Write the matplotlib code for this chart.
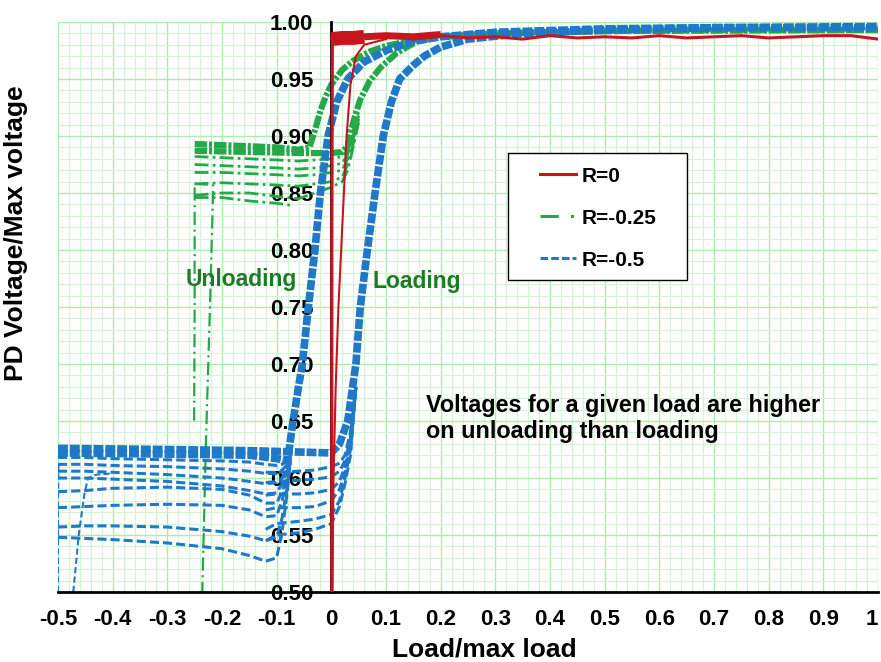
import numpy as np
import matplotlib.pyplot as plt
from matplotlib.ticker import MultipleLocator
from matplotlib.patches import Rectangle

plt.rcParams['font.family'] = ['Liberation Sans', 'DejaVu Sans']
plt.rcParams['font.weight'] = 'bold'
plt.rcParams['axes.unicode_minus'] = False

RED = '#c8141e'
GREEN = '#25a84a'
BLUE = '#1f78c8'
TXT_GREEN = '#1e7b25'

# ---------------- R = 0 ----------------
red_rise_x = [0.002, 0.004, 0.008, 0.013, 0.02, 0.028, 0.035, 0.045, 0.06, 0.1]
red_rise_y = [0.50, 0.60, 0.68, 0.75, 0.82, 0.90, 0.945, 0.97, 0.98, 0.985]
red_drop_x = [0.001, 0.001, 0.002]
red_drop_y = [0.50, 0.80, 0.985]
red_band_x = [0.0, 0.02, 0.04, 0.06]
red_band_y = [0.985, 0.986, 0.986, 0.987]
red_band2_x = [0.06, 0.1, 0.15, 0.2]
red_band2_y = [0.987, 0.988, 0.987, 0.989]
red_top_x = [0.0, 0.05, 0.1, 0.15, 0.2, 0.25, 0.3, 0.35, 0.4, 0.45, 0.5,
             0.55, 0.6, 0.65, 0.7, 0.75, 0.8, 0.85, 0.9, 0.95, 1.0]
red_top_y = [0.986, 0.988, 0.989, 0.985, 0.988, 0.986, 0.987, 0.985, 0.988, 0.986, 0.987,
             0.986, 0.988, 0.986, 0.987, 0.988, 0.986, 0.987, 0.988, 0.988, 0.985]

# ---------------- R = -0.25 ----------------
green_unload_x = [-0.25, -0.2, -0.15, -0.1, -0.06, -0.04, -0.03, -0.02, -0.01, 0.0,
                  0.02, 0.04, 0.07, 0.1, 0.15, 0.2, 0.3, 0.5, 0.7, 1.0]
green_unload_y = [0.893, 0.892, 0.891, 0.890, 0.888, 0.890, 0.905, 0.922, 0.935, 0.945,
                  0.958, 0.966, 0.974, 0.979, 0.984, 0.987, 0.990, 0.992, 0.993, 0.993]
green_load_x = [-0.25, -0.15, -0.05, 0.0, 0.02, 0.03, 0.035, 0.045, 0.053, 0.07,
                0.09, 0.12, 0.157, 0.2, 0.3, 0.5, 1.0]
green_load_y = [0.887, 0.886, 0.885, 0.885, 0.886, 0.891, 0.903, 0.920, 0.932, 0.948,
                0.960, 0.973, 0.983, 0.987, 0.990, 0.992, 0.993]
green_lo_x = [-0.25, -0.2, -0.15, -0.1, -0.06, -0.03, 0.0, 0.02, 0.03, 0.04, 0.05]
green_lo_y = [
    [0.882, 0.881, 0.880, 0.879, 0.878, 0.879, 0.880, 0.882, 0.888, 0.905, 0.925],
    [0.875, 0.874, 0.873, 0.872, 0.871, 0.872, 0.874, 0.876, 0.884, 0.900, 0.920],
    [0.868, 0.868, 0.867, 0.866, 0.865, 0.866, 0.868, 0.870, 0.880, 0.897, 0.918],
    [0.858, 0.859, 0.858, 0.857, 0.856, 0.858, 0.860, 0.864, 0.875, 0.893, 0.915],
    [0.848, 0.850, 0.850, 0.847, 0.845, 0.850, 0.855, 0.860, 0.870, 0.890, 0.912],
]
green_low_x = [-0.25, -0.2, -0.15, -0.1, -0.07]
green_low_y = [0.846, 0.846, 0.843, 0.841, 0.839]
green_drop1_x = [-0.25, -0.25, -0.251]
green_drop1_y = [0.855, 0.75, 0.65]
green_drop2_x = [-0.25, -0.216, -0.216, -0.222, -0.230, -0.236]
green_drop2_y = [0.858, 0.857, 0.855, 0.75, 0.62, 0.50]

# ---------------- R = -0.5 ----------------
blue_unload_x = [-0.5, -0.3, -0.15, -0.1, -0.08, -0.07, -0.06, -0.053, -0.042, -0.03,
                 -0.02, -0.006, 0.01, 0.03, 0.06, 0.1, 0.15, 0.2, 0.3, 0.5, 0.7, 1.0]
blue_unload_y = [0.622, 0.621, 0.620, 0.617, 0.615, 0.650, 0.680, 0.700, 0.750, 0.800,
                 0.850, 0.900, 0.930, 0.950, 0.965, 0.975, 0.983, 0.987, 0.991, 0.994, 0.995, 0.995]
blue_load_x = [-0.5, -0.3, -0.15, 0.0, 0.015, 0.03, 0.045, 0.053, 0.066, 0.08,
               0.095, 0.11, 0.125, 0.15, 0.17, 0.2, 0.25, 0.35, 0.5, 0.7, 1.0]
blue_load_y = [0.626, 0.625, 0.624, 0.622, 0.630, 0.650, 0.700, 0.750, 0.800, 0.850,
               0.900, 0.930, 0.950, 0.962, 0.970, 0.978, 0.985, 0.990, 0.993, 0.995, 0.996]
blue_left_x = [-0.5, -0.45, -0.4, -0.3, -0.2, -0.15, -0.12, -0.1, -0.09, -0.08, -0.075]
blue_left_y = [
    [0.618, 0.618, 0.617, 0.616, 0.615, 0.614, 0.612, 0.611, 0.612, 0.615, 0.620],
    [0.612, 0.612, 0.611, 0.610, 0.608, 0.606, 0.604, 0.604, 0.607, 0.612, 0.620],
    [0.606, 0.606, 0.605, 0.603, 0.600, 0.597, 0.595, 0.596, 0.600, 0.610, 0.620],
    [0.600, 0.600, 0.599, 0.597, 0.593, 0.589, 0.586, 0.587, 0.595, 0.607, 0.620],
    [0.588, 0.589, 0.591, 0.592, 0.590, 0.585, 0.578, 0.578, 0.588, 0.603, 0.618],
    [0.574, 0.575, 0.576, 0.577, 0.576, 0.572, 0.566, 0.567, 0.580, 0.600, 0.617],
    [0.557, 0.558, 0.558, 0.557, 0.553, 0.549, 0.545, 0.548, 0.565, 0.595, 0.615],
    [0.548, 0.547, 0.546, 0.543, 0.538, 0.532, 0.527, 0.530, 0.553, 0.590, 0.615],
]
blue_right_x = [-0.12, -0.1, -0.06, -0.03, 0.0, 0.015, 0.025, 0.035, 0.045]
blue_right_y = [
    [0.605, 0.605, 0.606, 0.607, 0.610, 0.613, 0.620, 0.640, 0.680],
    [0.596, 0.597, 0.598, 0.599, 0.601, 0.606, 0.615, 0.635, 0.680],
    [0.585, 0.586, 0.586, 0.587, 0.590, 0.597, 0.610, 0.630, 0.680],
    [0.572, 0.574, 0.574, 0.575, 0.580, 0.590, 0.605, 0.630, 0.680],
    [0.555, 0.560, 0.562, 0.564, 0.568, 0.580, 0.600, 0.625, 0.680],
    [0.545, 0.550, 0.552, 0.555, 0.560, 0.575, 0.595, 0.620, 0.680],
]
blue_edge1_x = [-0.5, -0.5, -0.499]
blue_edge1_y = [0.50, 0.58, 0.615]
blue_edge2_x = [-0.472, -0.462, -0.452, -0.445, -0.43, -0.4]
blue_edge2_y = [0.50, 0.55, 0.585, 0.600, 0.603, 0.604]

x_ticks = [-0.5, -0.4, -0.3, -0.2, -0.1, 0, 0.1, 0.2, 0.3, 0.4, 0.5, 0.6, 0.7, 0.8, 0.9, 1.0]
x_tick_labels = ['-0.5', '-0.4', '-0.3', '-0.2', '-0.1', '0', '0.1', '0.2', '0.3', '0.4',
                 '0.5', '0.6', '0.7', '0.8', '0.9', '1']
y_ticks = [0.50, 0.55, 0.60, 0.65, 0.70, 0.75, 0.80, 0.85, 0.90, 0.95, 1.00]

fig = plt.figure(figsize=(8.81, 6.62), dpi=100)
ax = fig.add_axes([0.0658, 0.1057, 0.9308, 0.8611])

# green dash-dot curves
gd = dict(color=GREEN, linestyle='-.')
for row in green_lo_y:
    ax.plot(green_lo_x, row, lw=2, dashes=(5, 1.5, 1, 1.5), **gd)
ax.plot(green_low_x, green_low_y, lw=2, dashes=(5, 1.5, 1, 1.5), **gd)
ax.plot(green_drop1_x, green_drop1_y, lw=1.6, dashes=(6, 2, 1, 2), **gd)
ax.plot(green_drop2_x, green_drop2_y, lw=1.6, dashes=(6, 2, 1, 2), **gd)
ax.plot(green_unload_x, green_unload_y, lw=4.5, dashes=(2, 0.3, 0.5, 0.3), **gd)
ax.plot(green_load_x, green_load_y, lw=4.5, dashes=(2, 0.3, 0.5, 0.3), **gd)

# blue dashed curves
bd = dict(color=BLUE, linestyle='--')
for row in blue_left_y:
    ax.plot(blue_left_x, row, lw=2.2, dashes=(3, 1.3), **bd)
for row in blue_right_y:
    ax.plot(blue_right_x, row, lw=2.2, dashes=(3, 1.3), **bd)
ax.plot(blue_edge1_x, blue_edge1_y, lw=1.5, dashes=(3, 1.5), **bd)
ax.plot(blue_edge2_x, blue_edge2_y, lw=1.5, dashes=(3, 1.5), **bd)
ax.plot(blue_unload_x, blue_unload_y, lw=5.5, dashes=(1.3, 0.25), **bd)
ax.plot(blue_load_x, blue_load_y, lw=5.5, dashes=(1.3, 0.25), **bd)

# red solid curves
ax.plot(red_top_x, red_top_y, color=RED, lw=2.2, zorder=3)
ax.plot(red_band_x, red_band_y, color=RED, lw=10, zorder=3, solid_capstyle='butt')
ax.plot(red_band2_x, red_band2_y, color=RED, lw=5, zorder=3, solid_capstyle='butt')
ax.plot(red_rise_x, red_rise_y, color=RED, lw=1.5, zorder=3)
ax.plot(red_drop_x, red_drop_y, color=RED, lw=2.2, zorder=3)

# legend box drawn by hand, entries placed inside without frame
ax.add_patch(Rectangle((0.549, 0.547), 0.218, 0.223, transform=ax.transAxes,
                       facecolor='white', edgecolor='black', lw=1.0, zorder=5))
ax.plot([], [], color=RED, lw=2.2, label='R=0')
ax.plot([], [], color=GREEN, lw=2.2, linestyle='-.', dashes=(6, 4, 1, 4), label='R=-0.25')
ax.plot([], [], color=BLUE, lw=2.2, linestyle='--', dashes=(2.5, 1), label='R=-0.5')
handles, labels = ax.get_legend_handles_labels()
leg = ax.legend(handles[-3:], labels[-3:], loc='upper left', bbox_to_anchor=(0.580, 0.757),
                fontsize=15, frameon=False, handlelength=1.75, labelspacing=1.1,
                borderpad=0.3, handletextpad=0.25, borderaxespad=0)
leg.set_zorder(6)

ax.set_xlim(-0.5, 1.0)
ax.set_ylim(0.5, 1.0)
ax.set_xticks(x_ticks)
ax.set_xticklabels(x_tick_labels)
ax.get_xticklabels()[-1].set_horizontalalignment('right')
ax.set_yticks(y_ticks)
ax.set_yticklabels(['%.2f' % v for v in y_ticks])
ax.xaxis.set_minor_locator(MultipleLocator(0.02))
ax.yaxis.set_minor_locator(MultipleLocator(0.01))
ax.grid(which='major', color='#b0eab0', lw=1.0)
ax.grid(which='minor', color='#d3f4d3', lw=0.8)
ax.set_axisbelow(True)
ax.tick_params(which='both', length=0, labelsize=16)
ax.tick_params(axis='y', pad=13)
ax.tick_params(axis='x', pad=12)

ax.spines['left'].set_position(('data', 0))
ax.spines['left'].set_linewidth(2)
ax.spines['bottom'].set_linewidth(2)
ax.spines['top'].set_visible(False)
ax.spines['right'].set_visible(False)

ax.set_xlabel('Load/max load', fontsize=19, fontweight='bold')
ax.set_ylabel('PD Voltage/Max voltage', fontsize=19, fontweight='bold')
ax.xaxis.set_label_coords(0.52, -0.08)
ax.yaxis.set_label_coords(-0.037, 0.63)

ax.text(-0.165, 0.774, 'Unloading', color=TXT_GREEN, fontsize=16.5, fontweight='bold',
        ha='center', va='center')
ax.text(0.156, 0.772, 'Loading', color=TXT_GREEN, fontsize=16.5, fontweight='bold',
        ha='center', va='center')
ax.text(0.174, 0.652, 'Voltages for a given load are higher\non unloading than loading',
        fontsize=16.8, fontweight='bold', ha='left', va='center', linespacing=1.15)

fig.savefig('out.png', dpi=100)
